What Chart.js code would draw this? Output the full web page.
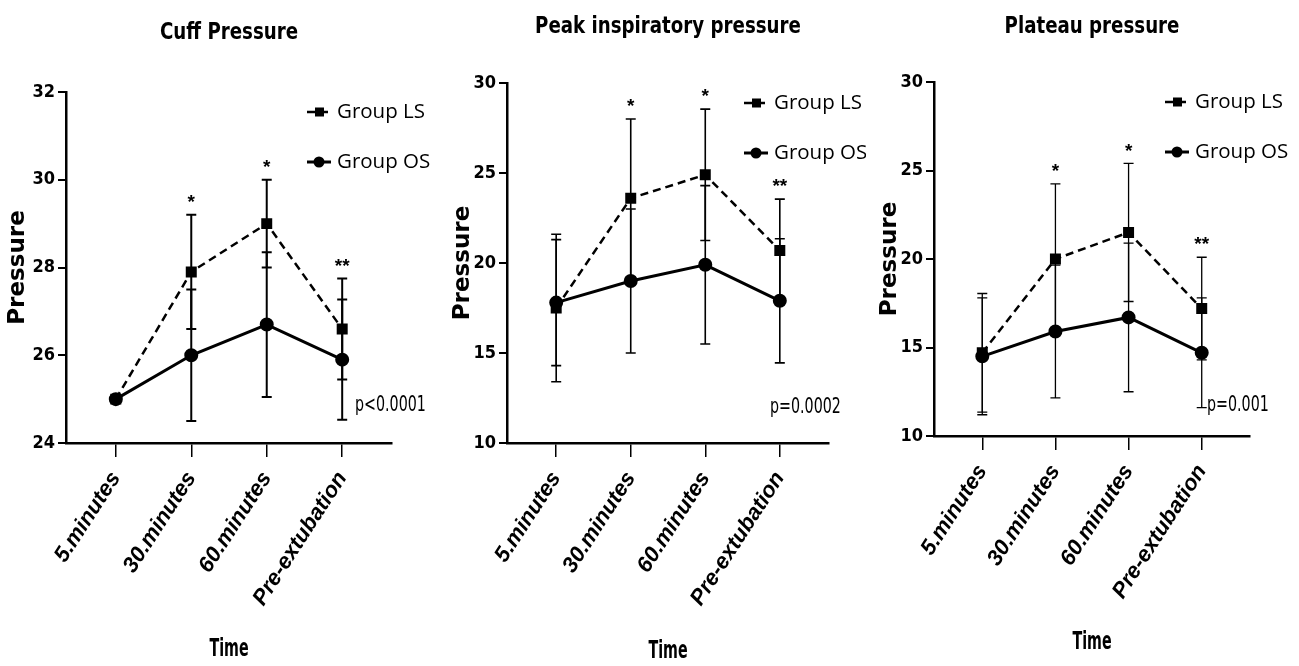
<!DOCTYPE html>
<html lang="en">
<head>
  <meta charset="UTF-8" />
  <title>Cuff, peak inspiratory and plateau pressure</title>
  <script src="https://cdn.jsdelivr.net/npm/chart.js"></script>
  <style>
    body {
      margin: 0;
      background: #fff;
      width: 1299px;
      height: 666px;
      position: relative;
      overflow: hidden;
    }
    .panel {
      position: absolute;
      top: 0;
      width: 433px;
      height: 666px;
    }
  </style>
</head>
<body>
  <div class="panel" style="left:0"><canvas id="cuffChart" width="433" height="666"></canvas></div>
  <div class="panel" style="left:433px"><canvas id="peakChart" width="433" height="666"></canvas></div>
  <div class="panel" style="left:866px"><canvas id="plateauChart" width="433" height="666"></canvas></div>

  <script>
    // time points (x axis)
    const timeLabels = ["5.minutes", "30.minutes", "60.minutes", "Pre-extubation"];
    const starLabels = ["", "*", "*", "**"];

    // cuff pressure: mean and SD per group
    const cuffLS = [25.0, 27.9, 29.0, 26.6];
    const cuffLSsd = [0, 1.3, 1.0, 1.15];
    const cuffOS = [25.0, 26.0, 26.7, 25.9];
    const cuffOSsd = [0, 1.5, 1.65, 1.37];

    // peak inspiratory pressure
    const peakLS = [17.5, 23.6, 24.9, 20.7];
    const peakLSsd = [4.1, 4.4, 3.65, 2.85];
    const peakOS = [17.8, 19.0, 19.9, 17.9];
    const peakOSsd = [3.5, 4.0, 4.4, 3.45];

    // plateau pressure
    const plateauLS = [14.7, 20.0, 21.5, 17.2];
    const plateauLSsd = [3.35, 4.25, 3.9, 2.9];
    const plateauOS = [14.5, 15.9, 16.7, 14.7];
    const plateauOSsd = [3.3, 3.75, 4.2, 3.1];

    const cond = "'DejaVu Sans Condensed', 'DejaVu Sans', sans-serif";
    const plain = "'Liberation Sans', Arial, sans-serif";

    // draws text squeezed horizontally (the original uses a narrow font)
    function squeezed(ctx, text, x, y, sx, align) {
      ctx.save();
      ctx.translate(x, y);
      ctx.scale(sx, 1);
      ctx.textAlign = align;
      ctx.fillText(text, 0, 0);
      ctx.restore();
    }

    // error bars, stars, p value, titles and legend
    const panelExtras = {
      id: "panelExtras",
      afterDatasetsDraw(chart, args, opts) {
        const { ctx, chartArea, scales: { x, y } } = chart;
        const midX = (chartArea.left + chartArea.right) / 2;
        ctx.save();
        ctx.strokeStyle = "#000";
        ctx.fillStyle = "#000";

        // error bars
        ctx.lineWidth = opts.errWidth;
        chart.data.datasets.forEach((ds) => {
          ds.sd.forEach((sd, i) => {
            if (!sd) return;
            const px = x.getPixelForValue(i);
            const hi = y.getPixelForValue(ds.data[i].y + sd);
            const lo = y.getPixelForValue(ds.data[i].y - sd);
            ctx.beginPath();
            ctx.moveTo(px, hi); ctx.lineTo(px, lo);
            ctx.moveTo(px - 5, hi); ctx.lineTo(px + 5, hi);
            ctx.moveTo(px - 5, lo); ctx.lineTo(px + 5, lo);
            ctx.stroke();
          });
        });

        // significance stars
        ctx.font = "bold 19px " + plain;
        ctx.textAlign = "center";
        ctx.textBaseline = "middle";
        const [ls, os] = chart.data.datasets;
        starLabels.forEach((s, i) => {
          if (!s) return;
          const top = Math.max(ls.data[i].y + ls.sd[i], os.data[i].y + os.sd[i]);
          ctx.fillText(s, x.getPixelForValue(i), y.getPixelForValue(top) - 12);
        });

        // p value
        ctx.font = "22px " + cond;
        squeezed(ctx, opts.pText, chartArea.right + opts.pDx, chartArea.bottom - opts.pDy, 0.72, "left");

        // panel title and x axis title
        ctx.font = "bold 23px " + cond;
        squeezed(ctx, opts.title, midX, opts.titleY, 0.88, "center");
        ctx.font = "bold 24px " + cond;
        squeezed(ctx, "Time", midX, opts.timeY, 0.66, "center");

        // legend
        const lx = chartArea.right - 85;
        chart.data.datasets.forEach((ds, k) => {
          const ly = chartArea.top + 20 + k * 50;
          ctx.lineWidth = ds.borderWidth;
          ctx.setLineDash(ds.borderDash || []);
          ctx.beginPath();
          ctx.moveTo(lx, ly); ctx.lineTo(lx + 24, ly);
          ctx.stroke();
          ctx.setLineDash([]);
          ctx.beginPath();
          if (ds.pointStyle === "rect") {
            ctx.fillRect(lx + 8, ly - 4.5, 9, 9);
          } else {
            ctx.arc(lx + 12, ly, 5.5, 0, Math.PI * 2);
            ctx.fill();
          }
          ctx.font = "20.5px 'Open Sans', sans-serif";
          ctx.textAlign = "left";
          ctx.fillText(ds.label, lx + 30, ly);
        });
        ctx.restore();
      }
    };

    function buildPanel(id, s) {
      const toPoints = (arr) => arr.map((v, i) => ({ x: i, y: v }));
      new Chart(document.getElementById(id), {
        type: "line",
        data: {
          datasets: [
            {
              label: "Group LS",
              data: toPoints(s.ls),
              sd: s.lsSd,
              borderColor: "#000",
              backgroundColor: "#000",
              borderWidth: 2.5,
              borderDash: [8, 5],
              pointStyle: "rect",
              pointRadius: 6,
              tension: 0
            },
            {
              label: "Group OS",
              data: toPoints(s.os),
              sd: s.osSd,
              borderColor: "#000",
              backgroundColor: "#000",
              borderWidth: 3,
              pointStyle: "circle",
              pointRadius: 5.5,
              tension: 0
            }
          ]
        },
        options: {
          responsive: false,
          animation: false,
          devicePixelRatio: 1,
          layout: { padding: { top: s.padTop, right: s.padRight, left: 0, bottom: 0 } },
          plugins: {
            legend: { display: false },
            tooltip: { enabled: false },
            panelExtras: {
              title: s.title,
              titleY: s.titleY,
              timeY: s.timeY,
              pText: s.pText,
              pDx: s.pDx,
              pDy: s.pDy,
              errWidth: s.errWidth
            }
          },
          scales: {
            x: {
              type: "linear",
              min: -0.66,
              max: 3.66,
              afterBuildTicks: (scale) => {
                scale.ticks = timeLabels.map((_, i) => ({ value: i }));
              },
              afterFit: (scale) => { scale.height = s.xHeight; },
              ticks: {
                autoSkip: false,
                minRotation: 57,
                maxRotation: 57,
                padding: 10,
                color: "#000",
                font: { family: plain, size: 22, weight: "bold", style: "italic" },
                callback: (v) => timeLabels[v]
              },
              grid: { drawOnChartArea: false, tickLength: 14, color: "#000", lineWidth: 1.5 },
              border: { color: "#000", width: 2.5 }
            },
            y: {
              min: s.yMin,
              max: s.yMax,
              afterFit: (scale) => { scale.width = s.yWidth; },
              ticks: {
                stepSize: s.step,
                padding: 3,
                color: "#000",
                font: { family: cond, size: 18, weight: "bold" }
              },
              grid: { drawOnChartArea: false, tickLength: 8, color: "#000", lineWidth: 2 },
              border: { color: "#000", width: 2.5 },
              title: {
                display: true,
                text: "Pressure",
                color: "#000",
                font: { family: "'DejaVu Sans', sans-serif", size: 23, weight: "bold" },
                padding: { top: s.yTitlePad, bottom: 0 }
              }
            }
          }
        },
        plugins: [panelExtras]
      });
    }

    buildPanel("cuffChart", {
      title: "Cuff Pressure", titleY: 33, timeY: 650, pText: "p<0.0001", pDx: -37, pDy: 38,
      ls: cuffLS, lsSd: cuffLSsd, os: cuffOS, osSd: cuffOSsd,
      yMin: 24, yMax: 32, step: 2,
      padTop: 92, padRight: 41, yWidth: 66, xHeight: 223, yTitlePad: 4, errWidth: 2
    });

    buildPanel("peakChart", {
      title: "Peak inspiratory pressure", titleY: 27, timeY: 652, pText: "p=0.0002", pDx: -59, pDy: 36,
      ls: peakLS, lsSd: peakLSsd, os: peakOS, osSd: peakOSsd,
      yMin: 10, yMax: 30, step: 5,
      padTop: 83, padRight: 37, yWidth: 74, xHeight: 223, yTitlePad: 16, errWidth: 1.6
    });

    buildPanel("plateauChart", {
      title: "Plateau pressure", titleY: 27, timeY: 643, pText: "p=0.001", pDx: -43, pDy: 31,
      ls: plateauLS, lsSd: plateauLSsd, os: plateauOS, osSd: plateauOSsd,
      yMin: 10, yMax: 30, step: 5,
      padTop: 82, padRight: 49, yWidth: 68, xHeight: 230, yTitlePad: 10, errWidth: 1.3
    });
  </script>
</body>
</html>
